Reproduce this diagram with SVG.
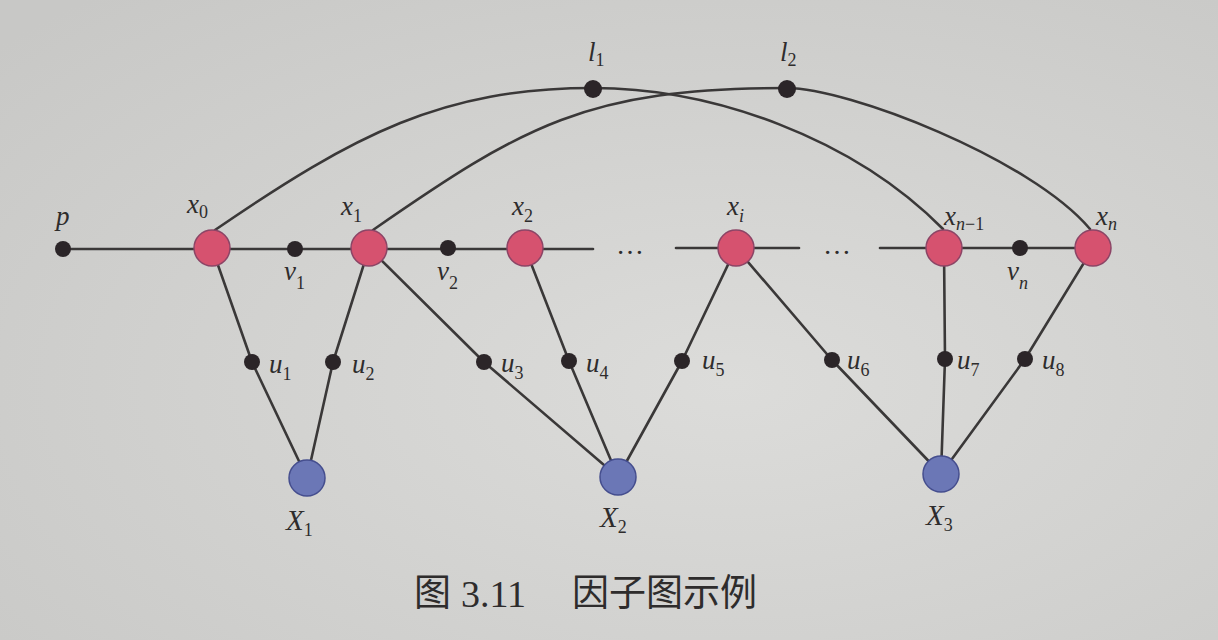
<svg xmlns="http://www.w3.org/2000/svg" width="1218" height="640" viewBox="0 0 1218 640">
<defs>
<radialGradient id="bg" cx="0.6" cy="0.6" r="0.8">
<stop offset="0" stop-color="#dcdcda"/>
<stop offset="1" stop-color="#c8c8c6"/>
</radialGradient>
<style>
.ln{fill:none;stroke:#3a3838;stroke-width:2.6;stroke-linecap:round;stroke-linejoin:round}
.var{fill:#d6526f;stroke:#8c4566;stroke-width:1.5}
.obs{fill:#6b77b6;stroke:#454e8e;stroke-width:1.5}
.fac{fill:#2b2528}
text{fill:#2e2c2c}
.lb{font-family:'Liberation Serif','Times New Roman',serif;font-style:italic;font-size:27px}
.big{font-size:29px}
.sub{font-size:18px;font-style:normal}
.subi{font-size:18px;font-style:italic}
.cap{font-family:'Liberation Serif','Times New Roman',serif;font-size:38px}
.capc{font-family:'Noto Sans CJK SC','Noto Sans CJK JP',sans-serif;font-size:37px}
.dots{font-family:'Liberation Serif','Times New Roman',serif;font-size:28px}
</style>
</defs>
<rect width="1218" height="640" fill="url(#bg)"/>

<g id="connectors">
<path class="ln" d="M63,249 H593"/>
<path class="ln" d="M676,248 H799"/>
<path class="ln" d="M880,248 H1093"/>
<path class="ln" d="M215,230 C355,134 443,88 593,88 C713,88 853,138 943,229"/>
<path class="ln" d="M373,230 C523,126 587,88 787,88 C847,88 1030,158 1090,229"/>
<polyline class="ln" points="212,248 252,362 307,478"/>
<polyline class="ln" points="369,248 333,362 307,478"/>
<polyline class="ln" points="369,248 484,362 618,477"/>
<polyline class="ln" points="525,248 569,361 618,477"/>
<polyline class="ln" points="736,248 682,361 618,477"/>
<polyline class="ln" points="736,248 832,360 941,474"/>
<polyline class="ln" points="944,248 945,359 941,474"/>
<polyline class="ln" points="1093,248 1025,359 941,474"/>
</g>

<text class="dots" x="630" y="254" text-anchor="middle">…</text>
<text class="dots" x="837" y="254" text-anchor="middle">…</text>

<g id="node-p"><circle class="fac" cx="63" cy="249" r="8"/><text class="lb" x="56" y="225">p</text></g>
<g id="node-x0"><circle class="var" cx="212" cy="248" r="18"/><text class="lb" x="187" y="213">x<tspan class="sub" dy="5">0</tspan></text></g>
<g id="node-v1"><circle class="fac" cx="295" cy="249" r="8"/><text class="lb" x="284" y="280">v<tspan class="sub" dy="9">1</tspan></text></g>
<g id="node-x1"><circle class="var" cx="369" cy="248" r="18"/><text class="lb" x="341" y="215">x<tspan class="sub" dy="7">1</tspan></text></g>
<g id="node-v2"><circle class="fac" cx="448" cy="248" r="8"/><text class="lb" x="437" y="280">v<tspan class="sub" dy="9">2</tspan></text></g>
<g id="node-x2"><circle class="var" cx="525" cy="248" r="18"/><text class="lb" x="512" y="215">x<tspan class="sub" dy="7">2</tspan></text></g>
<g id="node-xi"><circle class="var" cx="736" cy="248" r="18"/><text class="lb" x="727" y="215">x<tspan class="subi" dy="7">i</tspan></text></g>
<g id="node-xn1"><circle class="var" cx="944" cy="248" r="18"/><text class="lb" x="944" y="225">x<tspan class="subi" dy="5">n</tspan><tspan class="sub">−1</tspan></text></g>
<g id="node-vn"><circle class="fac" cx="1020" cy="248" r="8"/><text class="lb" x="1007" y="280">v<tspan class="subi" dy="9">n</tspan></text></g>
<g id="node-xn"><circle class="var" cx="1093" cy="248" r="18"/><text class="lb" x="1096" y="225">x<tspan class="subi" dy="5">n</tspan></text></g>

<g id="node-l1"><circle class="fac" cx="593" cy="89" r="9"/><text class="lb" x="588" y="61">l<tspan class="sub" dy="5">1</tspan></text></g>
<g id="node-l2"><circle class="fac" cx="787" cy="89" r="9"/><text class="lb" x="780" y="61">l<tspan class="sub" dy="5">2</tspan></text></g>

<g id="node-u1"><circle class="fac" cx="252" cy="362" r="8"/><text class="lb" x="269" y="373">u<tspan class="sub" dy="7">1</tspan></text></g>
<g id="node-u2"><circle class="fac" cx="333" cy="362" r="8"/><text class="lb" x="352" y="373">u<tspan class="sub" dy="7">2</tspan></text></g>
<g id="node-u3"><circle class="fac" cx="484" cy="362" r="8"/><text class="lb" x="501" y="372">u<tspan class="sub" dy="7">3</tspan></text></g>
<g id="node-u4"><circle class="fac" cx="569" cy="361" r="8"/><text class="lb" x="586" y="372">u<tspan class="sub" dy="7">4</tspan></text></g>
<g id="node-u5"><circle class="fac" cx="682" cy="361" r="8"/><text class="lb" x="702" y="369">u<tspan class="sub" dy="7">5</tspan></text></g>
<g id="node-u6"><circle class="fac" cx="832" cy="360" r="8"/><text class="lb" x="847" y="369">u<tspan class="sub" dy="7">6</tspan></text></g>
<g id="node-u7"><circle class="fac" cx="945" cy="359" r="8"/><text class="lb" x="957" y="369">u<tspan class="sub" dy="7">7</tspan></text></g>
<g id="node-u8"><circle class="fac" cx="1025" cy="359" r="8"/><text class="lb" x="1042" y="369">u<tspan class="sub" dy="7">8</tspan></text></g>

<g id="node-X1"><circle class="obs" cx="307" cy="478" r="18"/><text class="lb big" x="286" y="530">X<tspan class="sub" dy="6">1</tspan></text></g>
<g id="node-X2"><circle class="obs" cx="618" cy="477" r="18"/><text class="lb big" x="600" y="527">X<tspan class="sub" dy="6">2</tspan></text></g>
<g id="node-X3"><circle class="obs" cx="941" cy="474" r="18"/><text class="lb big" x="926" y="525">X<tspan class="sub" dy="6">3</tspan></text></g>

<g id="caption">
<text class="capc" x="414" y="606">图</text>
<text class="cap" x="461" y="607">3.11</text>
<text class="capc" x="572" y="606">因子图示例</text>
</g>
</svg>
